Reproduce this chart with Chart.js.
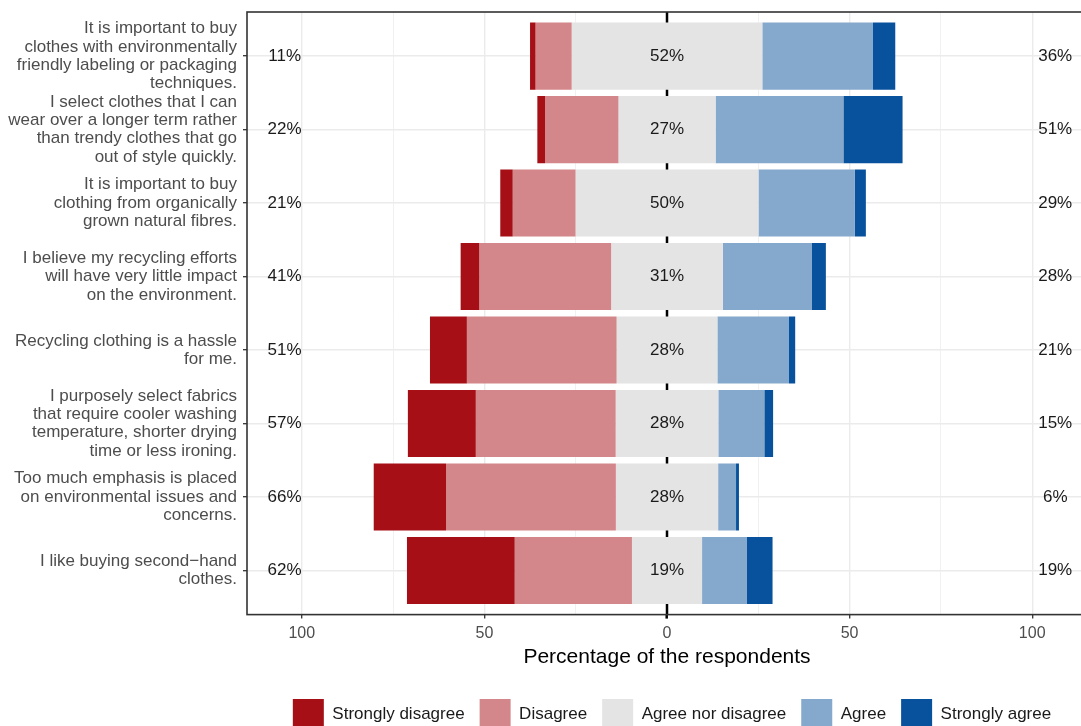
<!DOCTYPE html>
<html lang="en">

<head>
    <meta charset="UTF-8">
    <title>Likert chart</title>
    <script src="https://cdn.jsdelivr.net/npm/chart.js@4"></script>
    <style>
        body { margin: 0; background: #fff; }
        #frame { width: 1081px; height: 726px; overflow: hidden; position: relative; }
        #box { width: 1088px; height: 740px; position: absolute; left: 0; top: 0; }
    </style>
</head>

<body>
    <div id="frame">
        <div id="box"><canvas id="chart"></canvas></div>
    </div>
    <script>
        // questions, top to bottom
        const items = [
            ["It is important to buy", "clothes with environmentally", "friendly labeling or packaging", "techniques."],
            ["I select clothes that I can", "wear over a longer term rather", "than trendy clothes that go", "out of style quickly."],
            ["It is important to buy", "clothing from organically", "grown natural fibres."],
            ["I believe my recycling efforts", "will have very little impact", "on the environment."],
            ["Recycling clothing is a hassle", "for me."],
            ["I purposely select fabrics", "that require cooler washing", "temperature, shorter drying", "time or less ironing."],
            ["Too much emphasis is placed", "on environmental issues and", "concerns."],
            ["I like buying second\u2212hand", "clothes."]
        ]
        const levels = ["Strongly disagree", "Disagree", "Agree nor disagree", "Agree", "Strongly agree"]
        const colors = ["#a50f15", "#d4878a", "#e4e4e4", "#85a8cd", "#08519c"]

        // percent of respondents per answer
        const stronglyDisagree = [1.5, 2.1, 3.4, 5.1, 10.1, 18.6, 19.8, 29.5]
        const disagree = [9.9, 20.1, 17.2, 36.1, 41.0, 38.3, 46.5, 32.1]
        const neutral = [52.2, 26.6, 50.1, 30.6, 27.6, 28.1, 28.0, 19.2]
        const agree = [30.3, 35.0, 26.4, 24.4, 19.6, 12.6, 4.9, 12.3]
        const stronglyAgree = [6.1, 16.2, 3.0, 3.8, 1.7, 2.4, 0.8, 7.0]

        const xTicks = [-100, -75, -50, -25, 0, 25, 50, 75, 100]
        const font = "'Liberation Sans', Arial, sans-serif"

        // diverging bars: neutral is split around zero
        function spans(i) {
            let h = neutral[i] / 2
            let d0 = -(h + disagree[i])
            let a1 = h + agree[i]
            return [
                [d0 - stronglyDisagree[i], d0],
                [d0, -h],
                [-h, h],
                [h, a1],
                [a1, a1 + stronglyAgree[i]]
            ]
        }

        var datasets = levels.map((name, k) => ({
            label: name,
            backgroundColor: colors[k],
            borderWidth: 0,
            grouped: false,
            categoryPercentage: 1,
            barPercentage: 0.913,
            data: items.map((_, i) => ({ x: spans(i)[k], y: i }))
        }))

        const extras = {
            id: 'extras',
            afterLayout(chart) {
                // legend sits a bit right of the plot centre
                chart.legend.left += 5
                chart.legend.right += 5
            },
            beforeDatasetsDraw(chart) {
                const { ctx, chartArea: a, scales: { x } } = chart
                let px = x.getPixelForValue(0)
                ctx.save()
                ctx.strokeStyle = '#000'
                ctx.lineWidth = 2.5
                ctx.beginPath()
                ctx.moveTo(px, a.top)
                ctx.lineTo(px, a.bottom)
                ctx.stroke()
                ctx.restore()
            },
            afterDatasetsDraw(chart) {
                const { ctx, chartArea: a, scales: { x, y } } = chart
                ctx.save()
                ctx.fillStyle = '#1a1a1a'
                ctx.font = '17px ' + font
                ctx.textAlign = 'center'
                ctx.textBaseline = 'middle'
                for (let i = 0; i < items.length; i++) {
                    let py = y.getPixelForValue(i)
                    let low = Math.round(stronglyDisagree[i] + disagree[i])
                    let high = Math.round(agree[i] + stronglyAgree[i])
                    ctx.fillText(low + '%', x.getPixelForValue(-104.7), py)
                    ctx.fillText(Math.round(neutral[i]) + '%', x.getPixelForValue(0), py)
                    ctx.fillText(high + '%', x.getPixelForValue(106.3), py)
                }
                ctx.strokeStyle = '#333'
                ctx.lineWidth = 1.6
                ctx.strokeRect(a.left, a.top, a.right - a.left, a.bottom - a.top)
                ctx.restore()
            }
        }

        new Chart(document.getElementById('chart'), {
            type: 'bar',
            data: { datasets: datasets },
            plugins: [extras],
            options: {
                indexAxis: 'y',
                animation: false,
                responsive: true,
                maintainAspectRatio: false,
                layout: { padding: { top: 12, right: 1, left: 0, bottom: 0 } },
                plugins: {
                    tooltip: { enabled: false },
                    legend: {
                        position: 'bottom',
                        fullSize: false,
                        labels: {
                            boxWidth: 31,
                            boxHeight: 31,
                            padding: 15,
                            color: '#1a1a1a',
                            font: { family: font, size: 17 }
                        }
                    }
                },
                scales: {
                    x: {
                        type: 'linear',
                        min: -115,
                        max: 115,
                        afterBuildTicks: s => { s.ticks = xTicks.map(v => ({ value: v })) },
                        border: { display: false },
                        grid: {
                            color: '#ebebeb',
                            lineWidth: c => (c.tick && c.tick.value % 50 == 0) ? 1.4 : 0.7,
                            tickColor: c => (c.tick && c.tick.value % 50 == 0) ? (c.tick.value == 0 ? '#000' : '#333') : 'rgba(0,0,0,0)',
                            tickWidth: c => (c.tick && c.tick.value == 0) ? 2.5 : 1.3,
                            tickLength: 4
                        },
                        ticks: {
                            autoSkip: false,
                            maxRotation: 0,
                            padding: 5,
                            color: '#4d4d4d',
                            font: { family: font, size: 16 },
                            callback: v => v % 50 == 0 ? String(Math.abs(v)) : ''
                        },
                        title: {
                            display: true,
                            text: 'Percentage of the respondents',
                            color: '#000',
                            font: { family: font, size: 21 },
                            padding: { top: -3, bottom: 14 }
                        }
                    },
                    y: {
                        type: 'linear',
                        reverse: true,
                        offset: false,
                        min: -0.6,
                        max: 7.6,
                        afterBuildTicks: s => { s.ticks = items.map((_, i) => ({ value: i })) },
                        afterFit: s => {
                            s.width = 247
                            s.paddingTop = 0
                            s.paddingBottom = 0
                        },
                        border: { display: false },
                        grid: {
                            offset: false,
                            color: '#ebebeb',
                            lineWidth: 1.4,
                            tickColor: '#333',
                            tickWidth: 1.3,
                            tickLength: 4
                        },
                        ticks: {
                            autoSkip: false,
                            padding: 6,
                            color: '#4d4d4d',
                            font: { family: font, size: 17, lineHeight: 1.08 },
                            callback: v => items[v]
                        }
                    }
                }
            }
        })
    </script>
</body>

</html>
